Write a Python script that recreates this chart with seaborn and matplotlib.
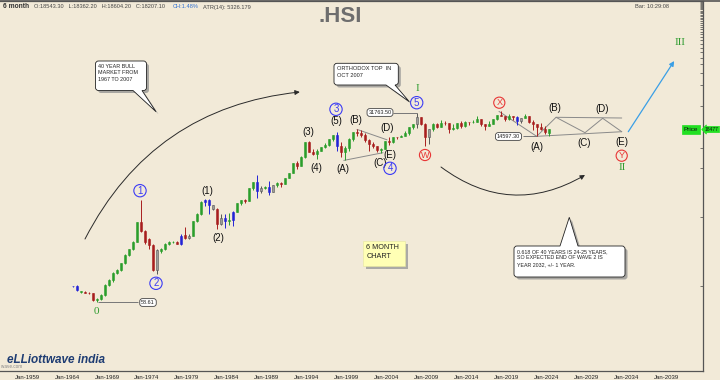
import numpy as np
import pandas as pd
import matplotlib
matplotlib.use("Agg")
import matplotlib.pyplot as plt
import matplotlib.transforms as mtransforms
from matplotlib.path import Path
from matplotlib.patches import PathPatch, Rectangle
from matplotlib.ticker import FixedLocator, NullLocator
import seaborn as sns

# ---------------- data (semi-annual candles, Hang Seng Index) ----------------
periods = pd.date_range("1964-07-01", periods=120, freq="6MS")
opens = [99, 101, 84, 82, 80, 78, 62, 65, 74, 104, 121, 155, 170, 211, 280, 341, 436, 843, 620, 470,
         395, 171, 320, 345, 405, 430, 434, 404, 545, 495, 535, 879, 1080, 1650, 1760, 1480, 1300, 783, 975, 874,
         898, 1180, 1560, 1752, 1700, 2568, 3140, 2400, 2620, 2687, 2300, 2837, 3090, 3025, 3690, 4297, 6050, 5512, 7276, 11888,
         8800, 8191, 9100, 10073, 10900, 13451, 15197, 10722, 8543, 10048, 13532, 16962, 16155, 15096, 13042, 11397, 10598, 9321, 9577, 12576,
         12286, 14230, 14201, 14876, 16267, 19964, 21773, 27812, 22102, 14387, 18379, 21872, 20128, 23035, 22398, 18434, 19441, 22657, 20803, 23306,
         23190, 23605, 26250, 21914, 20794, 22000, 25765, 29919, 28955, 25845, 28543, 28190, 24427, 27231, 28828, 23398, 21860, 19781, 18916, 16200]
highs = [101, 102, 85, 83, 81, 79, 67, 76, 107, 125, 158, 175, 215, 290, 345, 450, 850, 1775, 640, 500,
         400, 340, 355, 420, 450, 440, 440, 560, 707, 560, 880, 1120, 1680, 1810, 1780, 1500, 1330, 1100, 1100, 1130,
         1210, 1580, 1762, 1800, 2570, 3200, 3968, 2760, 2800, 3310, 2900, 3200, 3200, 3700, 4300, 6100, 6447, 7500, 11888, 12599,
         9700, 9500, 10200, 11600, 13530, 15300, 16820, 11926, 10712, 13600, 17000, 18398, 17900, 16274, 13200, 11975, 10700, 10000, 12600, 14058,
         14339, 14300, 15508, 17300, 20049, 22000, 31763.5, 27900, 23000, 18900, 23099, 22400, 24988, 24468, 23000, 21760, 22700, 23944, 24111, 23400,
         25362, 28588, 26300, 21914, 24364, 26000, 30200, 33484, 29000, 30280, 28900, 29175, 26900, 31183, 29000, 25050, 22000, 22700, 20400, 18650]
lows = [97, 84, 80, 79, 77, 60, 58.61, 63, 72, 100, 115, 150, 165, 205, 270, 330, 425, 600, 400, 340,
        165, 150, 300, 335, 395, 420, 400, 390, 480, 480, 520, 850, 1050, 1420, 1115, 1250, 676, 760, 690, 750,
        746, 1170, 1480, 1560, 1680, 2450, 1895, 2230, 2550, 2093, 2250, 2700, 2700, 2950, 3600, 4290, 4978, 5400, 7000, 8600,
        7800, 6890, 8900, 10000, 10500, 12500, 9059, 7351, 6544, 9000, 12400, 14763, 14400, 12000, 8894, 10000, 8772, 8331, 9500, 10917,
        11862, 13320, 14150, 14800, 15500, 18600, 19386, 21400, 10676, 11344, 17200, 18971, 19800, 21500, 16170, 18000, 18710, 19426, 19800, 21137,
        22500, 23200, 20368, 18279, 20500, 21900, 25100, 28500, 24541, 25064, 25000, 21139, 23100, 27000, 22665, 18235, 14597.3, 18000, 16000, 14794]
closes = [99, 86, 82, 80, 78, 62, 65, 74, 104, 121, 155, 170, 211, 280, 341, 436, 843, 620, 433, 395,
          171, 330, 345, 405, 430, 434, 404, 525, 495, 535, 879, 1100, 1650, 1760, 1480, 1300, 783, 975, 874, 898,
          1180, 1560, 1752, 1700, 2568, 3140, 2400, 2620, 2687, 2300, 2837, 3090, 3025, 3690, 4297, 6050, 5512, 7276, 11888, 8800,
          8191, 9100, 10073, 10900, 13451, 15197, 10722, 8543, 10048, 13532, 16962, 16155, 15096, 13042, 11397, 10598, 9321, 9577, 12576, 12286,
          14230, 14201, 14876, 16267, 19964, 21773, 27812, 22102, 14387, 18379, 21872, 20128, 23035, 22398, 18434, 19441, 22657, 20803, 23306, 23190,
          23605, 26250, 21914, 20794, 22000, 25765, 29919, 28955, 25845, 28543, 28190, 24427, 27231, 28828, 23398, 21860, 19781, 18916, 17047, 18477]
# candle colour class: g=green, r=red, b=blue, k=grey
kinds = ("bbgrrrggggggggggg" "rrrrk" "ggggrbrk" "gggbbkrkbgb" "ggrggbkgbkgrggg" "rg" "grrggggg" "b" "rgggrrrrrrgg"
         "rgrgggg" "krrk" "grgrrgg" "rgrggrrggg" "rrgrbkgrrrrr" "g")
kinds = kinds[:120]

# Elliott-wave projection path and guide lines (year, price)
proj_years = [2022.71, 2025.13, 2028.75, 2030.96, 2033.34]
proj_prices = [14597.3, 27530, 16480, 26630, 17030]
tri1_upper_years, tri1_upper_prices = [2000.25, 2004.0], [18398, 13000]
tri1_lower_years, tri1_lower_prices = [1998.6, 2003.5], [6544, 8460]
tri2_upper_years, tri2_upper_prices = [2025.13, 2033.34], [27530, 26890]
tri2_lower_years, tri2_lower_prices = [2022.71, 2033.34], [14597.3, 17030]
xa_years, xa_prices = [2018.0, 2022.71], [33484, 14597.3]
wave3_arrow = [(2034.16, 17030), (2039.9, 179700)]
bull_arc = [(1966.25, 477), (1993.1, 63970)]
bear_arc = [(2010.75, 5254), (2028.75, 4024)]
price_marks = [(58.61, 1967.9, 1972.9), (31763.5, 2004.75, 2007.75), (14597.3, 2021.0, 2022.75)]
tick_years = list(range(1959, 2040, 5))
tick_labels = [f"Jan-{y}" for y in tick_years]

# ---------------- figure ----------------
sns.set_theme(style="white")
plt.rcParams['font.family'] = ['Liberation Sans', 'DejaVu Sans']
BG = "#F2EAD8"
W, H = 720, 380
fig = plt.figure(figsize=(7.2, 3.8), dpi=100, facecolor=BG)
PX = mtransforms.Affine2D().scale(1 / W, -1 / H).translate(0, 1) + fig.transFigure

ax = fig.add_axes([0, 9 / H, 703 / W, 370 / H])
ax.set_facecolor(BG)
ax.set_yscale("log")
ax.set_xlim(1955.625, 2043.5)
ax.set_ylim(10 ** 0.7683, 10 ** 6.1228)

df = pd.DataFrame({"t": periods.year + (periods.month - 1) / 12 + 0.25,
                   "o": opens, "h": highs, "l": lows, "c": closes, "k": list(kinds)})
cmap = {"g": "#2B9E2B", "r": "#A81E1E", "b": "#2323D6", "k": "#9C9C9C"}
emap = {"g": "#2B9E2B", "r": "#A81E1E", "b": "#2323D6", "k": "#555555"}
cols = df["k"].map(cmap).to_numpy()
ecols = df["k"].map(emap).to_numpy()
bot = np.minimum(df["o"], df["c"]).to_numpy()
top = np.maximum(np.maximum(df["o"], df["c"]).to_numpy(), bot * 1.02)
ax.vlines(df["t"], df["l"], df["h"], colors=ecols, lw=0.7, zorder=3)
ax.bar(df["t"], top - bot, bottom=bot, width=0.36, color=cols, edgecolor=ecols, lw=0.4, zorder=4)

# guide lines through seaborn
lc = "#8A8A8A"
for xs, ys in [(proj_years, proj_prices), (tri1_upper_years, tri1_upper_prices),
               (tri1_lower_years, tri1_lower_prices), (tri2_upper_years, tri2_upper_prices),
               (tri2_lower_years, tri2_lower_prices), (xa_years, xa_prices)]:
    sns.lineplot(x=xs, y=ys, ax=ax, color=lc, lw=0.7, sort=False, estimator=None, zorder=2)
for p, x0, x1 in price_marks:
    ax.hlines(p, x0, x1, colors="#777777", lw=0.7, zorder=2)

ax.annotate("", xy=wave3_arrow[1], xytext=wave3_arrow[0],
            arrowprops=dict(arrowstyle="-|>", color="#3A9FE6", lw=0.9, mutation_scale=7, shrinkA=0, shrinkB=0))
ax.annotate("", xy=bull_arc[1], xytext=bull_arc[0],
            arrowprops=dict(arrowstyle="-|>", color="#2A2A2A", lw=0.7, mutation_scale=7, shrinkA=0, shrinkB=0,
                            connectionstyle="arc3,rad=-0.27"))
ax.annotate("", xy=bear_arc[1], xytext=bear_arc[0],
            arrowprops=dict(arrowstyle="-|>", color="#2A2A2A", lw=0.7, mutation_scale=7, shrinkA=0, shrinkB=0,
                            connectionstyle="arc3,rad=0.33"))

ax.set_xlabel("")
ax.set_ylabel("")
ax.set_xticks(tick_years)
ax.set_xticklabels(tick_labels, fontsize=4.3, color="#222222")
ax.tick_params(axis="x", direction="out", length=2, width=0.6, pad=1.2, color="#333333")
ax.yaxis.tick_right()
ax.yaxis.set_major_locator(FixedLocator([100, 1000, 5000, 10000] + list(np.arange(40000, 1.3e6, 40000))))
ax.yaxis.set_minor_locator(NullLocator())
ax.tick_params(axis="y", which="both", direction="in", length=2.5, width=0.5, labelright=False, labelleft=False,
               color="#444444")
for s in ["top", "bottom", "right"]:
    ax.spines[s].set_visible(True)
    ax.spines[s].set_color("#555555")
    ax.spines[s].set_linewidth(0.9)
ax.spines["left"].set_visible(False)
fig.add_artist(plt.Line2D([0, 720], [0.6, 0.6], transform=PX, color="#555555", lw=1.2))

# ---------------- text annotations ----------------
def t(x, y, s, **kw):
    kw.setdefault("ha", "center")
    kw.setdefault("va", "center")
    return fig.text(x, y, s, transform=PX, **kw)

t(3, 7, "6 month", ha="left", fontsize=4.8, weight="bold", color="#333333")
t(34, 7, "O:18543.30   L:18362.20   H:18604.20   C:18207.10", ha="left", fontsize=4.1, color="#444444")
t(173, 7, "CH:1.48%", ha="left", fontsize=4.1, color="#2F6FD0")
t(203, 7, "ATR(14): 5326.179", ha="left", fontsize=4.1, color="#444444")
t(669, 6, "Bar: 10:29:08", ha="right", fontsize=4.1, color="#444444")
t(340, 16, ".HSI", fontsize=16, weight="bold", color="#6E6E6E")

paren = [("(1)", 207.3, 191), ("(2)", 218.3, 238.3), ("(3)", 308.3, 131.7), ("(4)", 316, 168.3),
         ("(5)", 336, 120.7), ("(A)", 343.3, 169.3), ("(B)", 356, 120), ("(C)", 380, 163.3),
         ("(D)", 386.7, 127.7), ("(E)", 390, 155), ("(B)", 555, 108.3), ("(D)", 601.7, 109),
         ("(A)", 536.7, 146.7), ("(C)", 584, 142.7), ("(E)", 621.7, 141.7)]
for s, x, y in paren:
    t(x, y, s, fontsize=7, color="#111111")
circ_blue = [("1", 140, 190.7), ("2", 156, 283.3), ("3", 336, 109.3), ("4", 390, 168.3), ("5", 416.7, 102.7)]
for s, x, y in circ_blue:
    t(x, y, s, fontsize=7, color="#3B3BF5",
      bbox=dict(boxstyle="circle,pad=0.12", fc="none", ec="#3B3BF5", lw=0.8))
circ_red = [("W", 425, 155), ("X", 499.3, 102.7), ("Y", 621.7, 155.7)]
for s, x, y in circ_red:
    t(x, y, s, fontsize=6.5, color="#E83535",
      bbox=dict(boxstyle="circle,pad=0.12", fc="none", ec="#E83535", lw=0.8))
for s, x, y in [("0", 96, 312), ("I", 417.3, 88.3), ("II", 621.7, 167.3), ("III", 680, 42.7)]:
    t(x, y, s, fontsize=8, color="#2E9B2E", family=["Liberation Serif", "DejaVu Serif"])

for s, x, y in [("58.61", 148, 302.5), ("31763.50", 380, 112.5), ("14597.30", 508.5, 136.5)]:
    t(x, y, s, fontsize=4, color="#222222",
      bbox=dict(boxstyle="round,pad=0.25,rounding_size=0.5", fc="white", ec="#444444", lw=0.6))

# speech bubbles
def bubble_path(x0, y0, x1, y1, side, a, b, tx, ty, r=3.0):
    verts, codes = [], []
    def M(p): verts.append(p); codes.append(Path.MOVETO)
    def L(p): verts.append(p); codes.append(Path.LINETO)
    def Q(c, p): verts.extend([c, p]); codes.extend([Path.CURVE3, Path.CURVE3])
    M((x0 + r, y0))
    if side == "top":
        L((a, y0)); L((tx, ty)); L((b, y0))
    L((x1 - r, y0)); Q((x1, y0), (x1, y0 + r))
    L((x1, y1 - r)); Q((x1, y1), (x1 - r, y1))
    if side == "bottom":
        L((b, y1)); L((tx, ty)); L((a, y1))
    L((x0 + r, y1)); Q((x0, y1), (x0, y1 - r))
    L((x0, y0 + r)); Q((x0, y0), (x0 + r, y0))
    verts.append((x0 + r, y0)); codes.append(Path.CLOSEPOLY)
    return Path(verts, codes)

def bubble(x0, y0, x1, y1, side, a, b, tx, ty, text, fs):
    p = bubble_path(x0, y0, x1, y1, side, a, b, tx, ty)
    sh = mtransforms.Affine2D().translate(2.5, 2.5) + PX
    fig.add_artist(PathPatch(p, transform=sh, fc="#8F8F8F", ec="none", alpha=0.75, zorder=5))
    fig.add_artist(PathPatch(p, transform=PX, fc="white", ec="#222222", lw=0.6, zorder=6))
    fig.text(x0 + 3, y0 + 3, text, transform=PX, ha="left", va="top", fontsize=fs,
             color="#222222", linespacing=1.35, zorder=7)

bubble(95.5, 61, 146.5, 90.5, "bottom", 133, 142, 156, 111.7,
       "40 YEAR BULL\nMARKET FROM\n1967 TO 2007", 3.9)
bubble(334, 63.3, 398.3, 85, "bottom", 386, 395, 409.3, 101.7,
       "ORTHODOX TOP  IN\nOCT 2007", 4.1)
bubble(514, 246, 625, 277, "top", 560, 578, 569.3, 217.3,
       "0.618 OF 40 YEARS IS 24-25 YEARS,\nSO EXPECTED END OF WAVE 2 IS\nYEAR 2032, +/- 1 YEAR.", 3.8)

# yellow note
fig.add_artist(Rectangle((366.3, 243.7), 41.7, 25.3, transform=PX, fc="#9A9A9A", ec="none", alpha=0.8, zorder=5))
fig.add_artist(Rectangle((363.3, 240.7), 41.7, 25.3, transform=PX, fc="#FFFFB5", ec="#E6E6A0", lw=0.4, zorder=6))
fig.text(366.5, 244, "6 MONTH\nCHART", transform=PX, ha="left", va="top", fontsize=5.2,
         color="#222222", linespacing=1.3, zorder=7)

# price tag on the right
t(691, 129.5, "Price", fontsize=4.6, color="#111111",
  bbox=dict(boxstyle="square,pad=0.25", fc="#22E022", ec="#22E022", lw=0.5))
fig.text(705, 129.5, "18477", transform=PX, ha="left", va="center", fontsize=3.6, color="#111111",
         bbox=dict(boxstyle="larrow,pad=0.12", fc="#22E022", ec="#22E022", lw=0.5))

# logo
t(7, 360, "eLLiottwave india", ha="left", fontsize=8.5, style="italic", weight="bold", color="#1F3D73")
t(1, 367, "wave.com", ha="left", fontsize=3.3, color="#888888")

fig.savefig("out.png", dpi=100, facecolor=BG)
